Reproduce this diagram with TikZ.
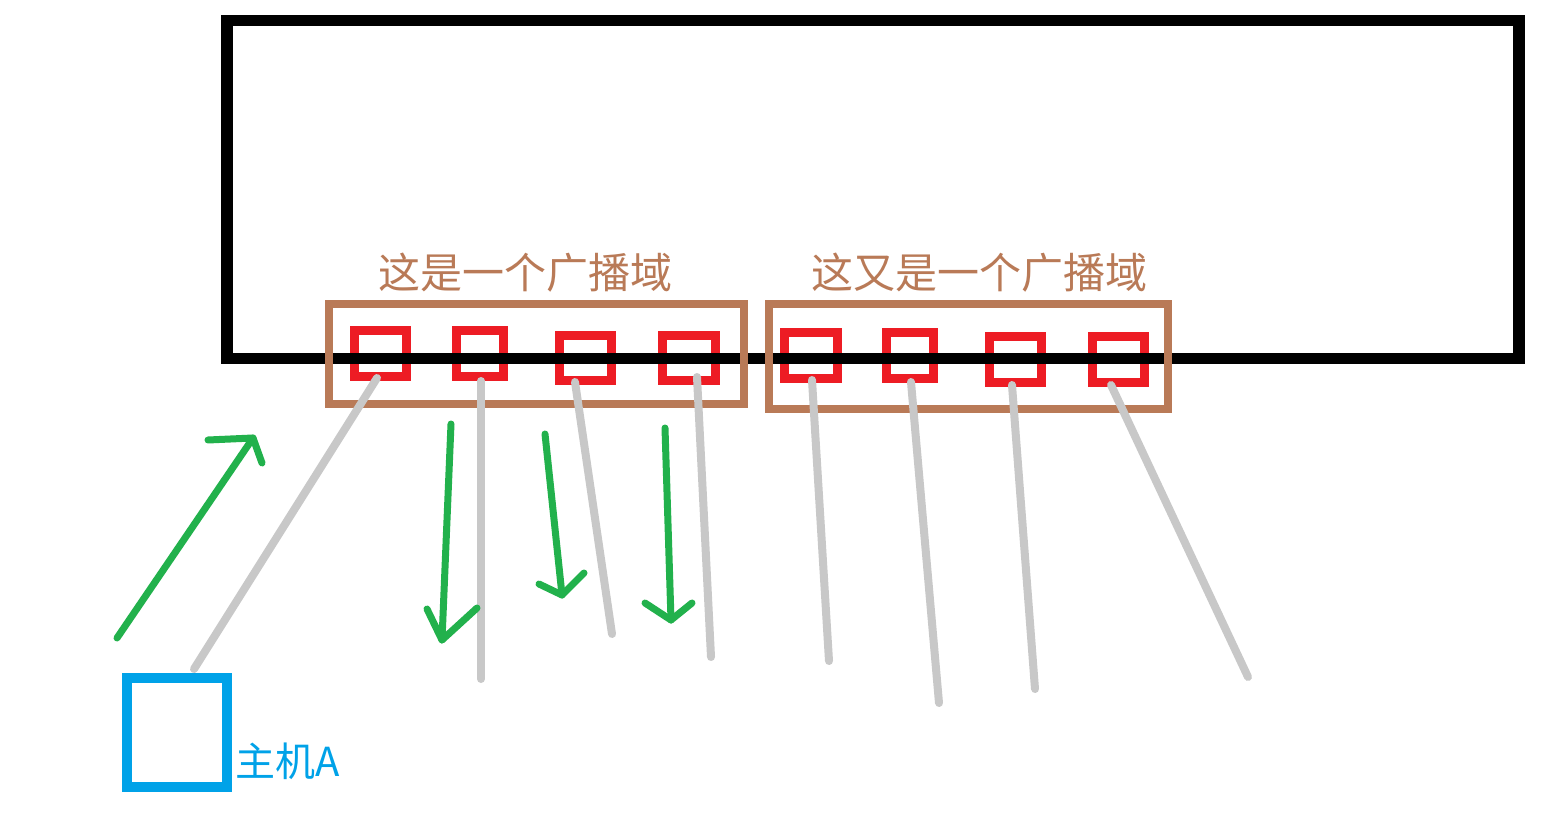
\documentclass[tikz,border=0pt]{standalone}
\usepackage{fontspec}
\newfontfamily\cjk{Noto Sans CJK SC}
\definecolor{pbrown}{RGB}{185,122,87}
\definecolor{pred}{RGB}{237,28,36}
\definecolor{pgreen}{RGB}{34,177,76}
\definecolor{pblue}{RGB}{0,162,232}
\definecolor{pgray}{RGB}{200,200,200}
\tikzset{
  port/.style={draw=pred, line width=9pt, inner sep=0pt, rectangle},
  domainbox/.style={draw=pbrown, line width=8pt, inner sep=0pt, rectangle},
  cable/.style={draw=pgray, line width=8pt, line cap=round},
  flow/.style={draw=pgreen, line width=7pt, line cap=round, line join=round},
  domlabel/.style={text=pbrown, font=\cjk\fontsize{42}{48}\selectfont, inner sep=0pt, anchor=base},
}
\begin{document}
\begin{tikzpicture}[x=1pt,y=-1pt]
\useasboundingbox[fill=white] (0,0) rectangle (1553,826);
% ports
\node[port, minimum width=52pt, minimum height=46pt] (p1) at (380.5,353.5) {};
\node[port, minimum width=47pt, minimum height=46pt] (p2) at (480,353.5) {};
\node[port, minimum width=52pt, minimum height=45pt] (p3) at (585.5,358) {};
\node[port, minimum width=53pt, minimum height=45pt] (p4) at (689,358) {};
\node[port, minimum width=53pt, minimum height=46pt] (p5) at (811,355.5) {};
\node[port, minimum width=47pt, minimum height=46pt] (p6) at (910,355.5) {};
\node[port, minimum width=52pt, minimum height=46pt] (p7) at (1015.5,359.5) {};
\node[port, minimum width=52pt, minimum height=46pt] (p8) at (1118.5,359.5) {};
% switch
\node[draw=black, line width=11.5pt, inner sep=0pt, minimum width=1292pt, minimum height=338pt] (sw) at (873,189.5) {};
% broadcast domains
\node[domainbox, minimum width=415pt, minimum height=100pt] (d1) at (536.5,354) {};
\node[domainbox, minimum width=399pt, minimum height=105pt] (d2) at (968.5,356.5) {};
\node[domlabel] (l1) at (525,289) {这是一个广播域};
\node[domlabel] (l2) at (979.5,289) {这又是一个广播域};
% host A
\node[draw=pblue, line width=10pt, inner sep=0pt, minimum width=100pt, minimum height=109pt] (hostA) at (177,732.5) {};
\node[text=pblue, font=\cjk\fontsize{40}{46}\selectfont, inner sep=0pt, anchor=base west] (hl) at (235,776) {主机A};
% cables
\coordinate (c1) at (194,669);
\coordinate (c2) at (481,679);
\coordinate (c3) at (612,634);
\coordinate (c4) at (711,657);
\coordinate (c5) at (829,661);
\coordinate (c6) at (939,703);
\coordinate (c7) at (1035,689);
\coordinate (c8) at (1248,677);
\draw[cable] (377,378) -- (c1);
\draw[cable] (p2.south) ++(1,0) -- (c2);
\draw[cable] (575,382) -- (c3);
\draw[cable] (697,377) -- (c4);
\draw[cable] (812,380) -- (c5);
\draw[cable] (911,382) -- (c6);
\draw[cable] (1012,385) -- (c7);
\draw[cable] (1111,385) -- (c8);
% flows
\coordinate (u0) at (117,638);
\coordinate (u1) at (253,438);
\coordinate (ua) at (208,440);
\coordinate (ub) at (262,463);
\draw[flow] (u0) -- (u1);
\draw[flow] (ua) -- (u1) -- (ub);
\coordinate (a0) at (451,424);
\coordinate (a1) at (442,640);
\coordinate (aa) at (427,609);
\coordinate (ab) at (477,608);
\draw[flow] (a0) -- (a1);
\draw[flow] (aa) -- (a1) -- (ab);
\coordinate (b0) at (545,434);
\coordinate (b1) at (562,595);
\coordinate (ba) at (539,584);
\coordinate (bb) at (584,573);
\draw[flow] (b0) -- (b1);
\draw[flow] (ba) -- (b1) -- (bb);
\coordinate (e0) at (665,428);
\coordinate (e1) at (671,620);
\coordinate (ea) at (645,603);
\coordinate (eb) at (692,603);
\draw[flow] (e0) -- (e1);
\draw[flow] (ea) -- (e1) -- (eb);
\end{tikzpicture}
\end{document}
